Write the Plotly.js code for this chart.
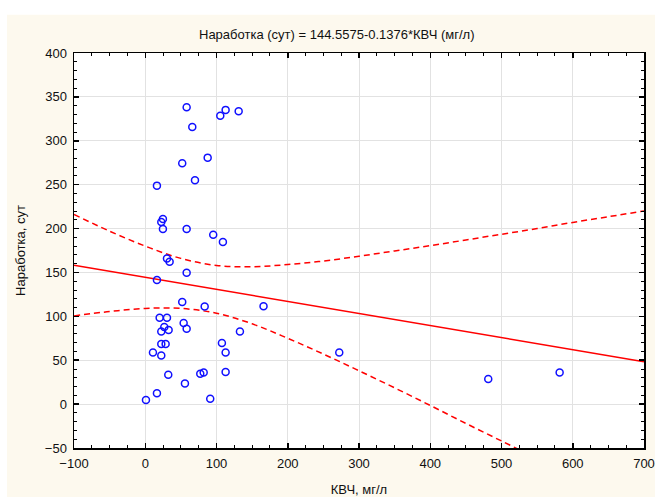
<!DOCTYPE html>
<html>
<head>
<meta charset="utf-8">
<script src="https://cdn.plot.ly/plotly-3.0.1.min.js"></script>
<style>html,body{margin:0;padding:0;background:#fff;}#chart{width:655px;height:497px;}</style>
</head>
<body>
<div id="chart"></div>
<script>
// Observed points: КВЧ (мг/л) vs Наработка (сут)
var kvch = [58.1,112.8,105.3,131.1,66,87.6,51.9,69.8,16.4,24.8,22.5,24.8,58.1,95.4,109,30.5,34.2,58.1,16.4,51.9,83.4,166,132.9,20.2,30.5,26.7,22.5,32.8,53.9,58.1,22.5,28.6,10.8,22.5,107.6,112.8,32.3,55.7,77.2,82,112.8,16.4,1,91.2,272.3,481.4,581.6];
var narabotka = [338.2,335.2,328.4,333.6,315.8,280.8,274.3,255,248.9,211,207.5,199.5,199.5,193,184.7,166,162.3,149.7,141.4,116.3,111.3,111.5,82.6,98.4,98.4,87.8,82.8,84.4,92.4,85.9,68.4,68.4,58.8,55.4,69.7,58.8,33.4,23.5,34.5,36,36.5,12.5,4.6,6,58.8,28.5,36];

// Regression line end points
var fitX = [-100, 700];
var fitY = [158.3, 48.2];

// 95% confidence band
var bandX = [-100,-50,0,50,100,150,200,250,300,350,400,450,500,550,600,650,700];
var upperBand = [216,197,180,166,158,156.5,159,163,168.5,174.5,180.5,187,193.5,200,207,213.5,220];
var lowerBand = [100.5,105.5,109,109,103.5,91.5,75,57,38,18.5,-1.5,-22,-42,-62,null,null,null];

var titleText = 'Наработка (сут) = 144.5575-0.1376*КВЧ (мг/л)';
var xTitle = 'КВЧ, мг/л';
var yTitle = 'Наработка, сут';

var fnt = {family: 'Liberation Sans, Arial, sans-serif', size: 13, color: '#111'};

var traces = [
  {x: bandX, y: upperBand, mode: 'lines', line: {color: '#ff0000', width: 1.5, dash: '6px,4px', shape: 'spline'}, hoverinfo: 'skip'},
  {x: bandX, y: lowerBand, mode: 'lines', line: {color: '#ff0000', width: 1.5, dash: '6px,4px', shape: 'spline'}, hoverinfo: 'skip'},
  {x: fitX, y: fitY, mode: 'lines', line: {color: '#ff0000', width: 1.5}},
  {x: kvch, y: narabotka, mode: 'markers', marker: {symbol: 'circle-open', size: 7, color: '#1010ff', line: {width: 1.5}}}
];

var axisCommon = {
  showline: true, linecolor: '#000', linewidth: 1.5, mirror: 'ticks',
  ticks: 'inside', ticklen: 5, tickcolor: '#000', tickwidth: 1.5,
  showgrid: true, gridcolor: '#e2e2e2', gridwidth: 1,
  zeroline: false, tickfont: fnt, automargin: false, ticklabelstandoff: 3
};

var layout = {
  width: 655, height: 497,
  margin: {l: 74, r: 11, t: 53, b: 49},
  paper_bgcolor: '#ffffff', plot_bgcolor: '#ffffff',
  showlegend: false,
  title: {text: titleText, font: fnt, x: 0.461, xref: 'paper', xanchor: 'center', y: 0.93, yref: 'container', yanchor: 'middle'},
  xaxis: Object.assign({}, axisCommon, {
    range: [-100, 700], dtick: 100, tick0: 0,
    minor: {ticks: 'inside', dtick: 25, ticklen: 3, tickcolor: '#000', tickwidth: 1, showgrid: false},
    title: {text: xTitle, font: fnt, standoff: 16}
  }),
  yaxis: Object.assign({}, axisCommon, {
    range: [-50, 400], dtick: 50, tick0: 0,
    minor: {ticks: 'inside', dtick: 10, ticklen: 3, tickcolor: '#000', tickwidth: 1, showgrid: false},
    title: {text: yTitle, font: fnt, standoff: 16}
  }),
  shapes: [
    {type: 'rect', xref: 'paper', yref: 'paper', x0: -0.1175, x1: 1.05, y0: -0.15, y1: 1.097, fillcolor: '#fdf9ee', line: {width: 0}, layer: 'below'},
    {type: 'rect', xref: 'paper', yref: 'paper', x0: 0, x1: 1, y0: 0, y1: 1, fillcolor: '#ffffff', line: {width: 0}, layer: 'below'}
  ]
};

Plotly.newPlot('chart', traces, layout, {displayModeBar: false, staticPlot: true});
</script>
</body>
</html>
